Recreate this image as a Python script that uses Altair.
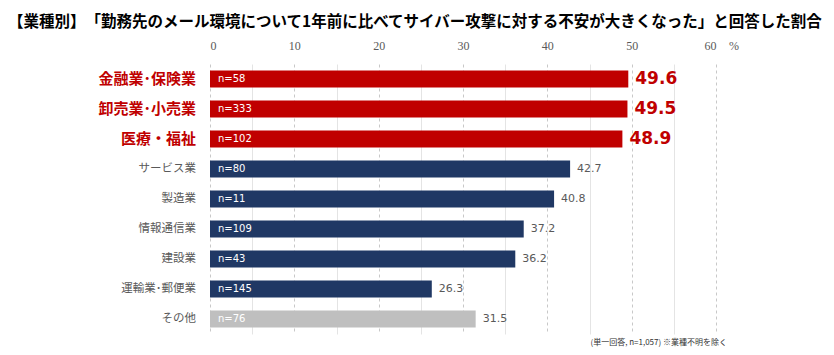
import altair as alt
import pandas as pd

categories = ["金融業･保険業", "卸売業･小売業", "医療・福祉", "サービス業", "製造業",
              "情報通信業", "建設業", "運輸業･郵便業", "その他"]
values = [49.6, 49.5, 48.9, 42.7, 40.8, 37.2, 36.2, 26.3, 31.5]
counts = [58, 333, 102, 80, 11, 109, 43, 145, 76]
groups = ["hi", "hi", "hi", "mid", "mid", "mid", "mid", "mid", "other"]
ticks = [0, 5, 10, 15, 20, 25, 30, 35, 40, 45, 50, 55, 60]

title_text = "【業種別】　「勤務先のメール環境について1年前に比べてサイバー攻撃に対する不安が大きくなった」と回答した割合"
note_text = "(単一回答, n=1,057) ※業種不明を除く"

RED = "#C00000"
NAVY = "#203864"
GREY_BAR = "#BFBFBF"
TXT = "#595959"
JP = "Noto Sans CJK JP"
NUM = "DejaVu Sans"

df = pd.DataFrame({"cat": categories, "val": values, "n": counts, "grp": groups})
df["nlab"] = ["n=" + str(c) for c in counts]

ysc = alt.Scale(domain=categories, paddingInner=0.43, paddingOuter=0.215)
xsc = alt.Scale(domain=[0, 60], nice=False)

base = alt.Chart(df)

bars = base.mark_bar().encode(
    x=alt.X("val:Q", scale=xsc, axis=alt.Axis(
        orient="top", values=ticks, title=None, domain=False, ticks=False,
        labelExpr="datum.value % 10 === 0 ? datum.label : ''",
        labelColor=TXT, labelFont="Liberation Sans Narrow", labelFontSize=12,
        labelPadding=12,
        gridColor={"condition": {"test": "datum.value % 10 === 0", "value": "#C8C8C8"}, "value": "#E4E4E4"},
        gridDash={"condition": {"test": "datum.value % 10 === 0", "value": [3, 3]}, "value": []},
    )),
    y=alt.Y("cat:N", scale=ysc, axis=None, sort=categories),
    color=alt.Color("grp:N", scale=alt.Scale(domain=["hi", "mid", "other"], range=[RED, NAVY, GREY_BAR]), legend=None),
)

nlabels = base.mark_text(align="left", baseline="middle", color="white", font=NUM, fontSize=10).encode(
    x=alt.value(8), y=alt.Y("cat:N", scale=ysc, sort=categories), text="nlab:N")

vhi = base.transform_filter("datum.grp === 'hi'").mark_text(
    align="left", baseline="middle", dx=7, color=RED, font=NUM, fontSize=17, fontWeight="bold").encode(
    x=alt.X("val:Q", scale=xsc), y=alt.Y("cat:N", scale=ysc, sort=categories), text=alt.Text("val:Q", format=".1f"))

vlo = base.transform_filter("datum.grp !== 'hi'").mark_text(
    align="left", baseline="middle", dx=7, color=TXT, font=NUM, fontSize=11).encode(
    x=alt.X("val:Q", scale=xsc), y=alt.Y("cat:N", scale=ysc, sort=categories), text=alt.Text("val:Q", format=".1f"))

chi = base.transform_filter("datum.grp === 'hi'").mark_text(
    align="right", baseline="middle", color=RED, font=JP, fontSize=15, fontWeight="bold").encode(
    x=alt.value(-14), y=alt.Y("cat:N", scale=ysc, sort=categories), text="cat:N")

clo = base.transform_filter("datum.grp !== 'hi'").mark_text(
    align="right", baseline="middle", color=TXT, font=JP, fontSize=11.5).encode(
    x=alt.value(-14), y=alt.Y("cat:N", scale=ysc, sort=categories), text="cat:N")

title = alt.Chart(pd.DataFrame({"t": [title_text]})).mark_text(
    align="left", baseline="alphabetic", color="black", font=JP, fontSize=15.5, fontWeight="bold").encode(
    x=alt.value(-202), y=alt.value(-37), text="t:N")

note = alt.Chart(pd.DataFrame({"t": [note_text]})).mark_text(
    align="right", baseline="bottom", color="#333333", font=JP, fontSize=8).encode(
    x=alt.value(517), y=alt.value(283), text="t:N")

pct = alt.Chart(pd.DataFrame({"t": ["%"]})).mark_text(
    align="left", baseline="middle", color=TXT, font="Liberation Sans Narrow", fontSize=12).encode(
    x=alt.value(519), y=alt.value(-18), text="t:N")

chart = alt.layer(bars, nlabels, vhi, vlo, chi, clo, title, note, pct).properties(
    width=506, height=270,
    autosize=alt.AutoSizeParams(type="none"),
    padding={"left": 202, "top": 56, "right": 110, "bottom": 13},
).configure_view(stroke=None)

chart.save("out.html", embed_options={"renderer": "svg", "actions": False})
